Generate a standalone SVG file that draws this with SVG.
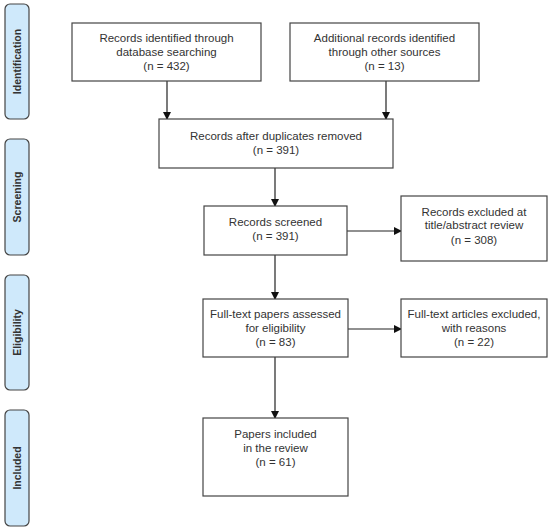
<svg xmlns="http://www.w3.org/2000/svg" width="550" height="530" viewBox="0 0 550 530">
<style>
.box{fill:#fff;stroke:#444;stroke-width:1.2}
.side{fill:#cfe9fb;stroke:#444;stroke-width:1.2}
.t{font-family:"Liberation Sans",Arial,sans-serif;font-size:11.5px;fill:#333;text-anchor:middle}
.s{font-family:"Liberation Sans",Arial,sans-serif;font-size:10.5px;font-weight:bold;fill:#333;text-anchor:middle}
.c{stroke:#222;stroke-width:1.2;fill:none;marker-end:url(#ah)}
</style>
<defs>
<marker id="ah" markerWidth="8" markerHeight="8" refX="7" refY="4" orient="auto" markerUnits="userSpaceOnUse">
<path d="M0,0 L8,4 L0,8 Z" fill="#111"/>
</marker>
</defs>
<rect width="550" height="530" fill="#fff"/>
<g id="side-identification"><rect class="side" x="5" y="4" width="24" height="115" rx="5"/><text class="s" transform="translate(21,61.5) rotate(-90)">Identification</text></g>
<g id="side-screening"><rect class="side" x="5" y="139" width="24" height="116" rx="5"/><text class="s" transform="translate(21,197) rotate(-90)">Screening</text></g>
<g id="side-eligibility"><rect class="side" x="5" y="275" width="24" height="115" rx="5"/><text class="s" transform="translate(21,332.5) rotate(-90)">Eligibility</text></g>
<g id="side-included"><rect class="side" x="5" y="410" width="24" height="116" rx="5"/><text class="s" transform="translate(21,468) rotate(-90)">Included</text></g>

<g id="connectors">
<line class="c" x1="167" y1="81" x2="167" y2="119"/>
<line class="c" x1="386" y1="81" x2="386" y2="119"/>
<line class="c" x1="275" y1="168" x2="275" y2="206"/>
<line class="c" x1="347" y1="231" x2="401" y2="231"/>
<line class="c" x1="275" y1="255" x2="275" y2="299"/>
<line class="c" x1="348" y1="329" x2="401" y2="329"/>
<line class="c" x1="275" y1="357" x2="275" y2="418"/>
</g>

<g id="n1"><rect class="box" x="72" y="23" width="189" height="58"/>
<text class="t" x="166.5" y="42">Records identified through</text>
<text class="t" x="166.5" y="56">database searching</text>
<text class="t" x="166.5" y="70">(n = 432)</text></g>
<g id="n2"><rect class="box" x="290" y="23" width="189" height="58"/>
<text class="t" x="384.5" y="42">Additional records identified</text>
<text class="t" x="384.5" y="56">through other sources</text>
<text class="t" x="384.5" y="70">(n = 13)</text></g>
<g id="n3"><rect class="box" x="159" y="119" width="234" height="49"/>
<text class="t" x="276" y="140">Records after duplicates removed</text>
<text class="t" x="276" y="154">(n = 391)</text></g>
<g id="n4"><rect class="box" x="204" y="206" width="143" height="49"/>
<text class="t" x="275.5" y="226">Records screened</text>
<text class="t" x="275.5" y="240">(n = 391)</text></g>
<g id="n5"><rect class="box" x="401" y="196" width="146" height="65"/>
<text class="t" x="474" y="216">Records excluded at</text>
<text class="t" x="474" y="229">title/abstract review</text>
<text class="t" x="474" y="244">(n = 308)</text></g>
<g id="n6"><rect class="box" x="203" y="299" width="145" height="58"/>
<text class="t" x="275.5" y="318">Full-text papers assessed</text>
<text class="t" x="275.5" y="332">for eligibility</text>
<text class="t" x="275.5" y="346">(n = 83)</text></g>
<g id="n7"><rect class="box" x="401" y="299" width="146" height="58"/>
<text class="t" x="474" y="318">Full-text articles excluded,</text>
<text class="t" x="474" y="332">with reasons</text>
<text class="t" x="474" y="346">(n = 22)</text></g>
<g id="n8"><rect class="box" x="203" y="418" width="145" height="78"/>
<text class="t" x="275.5" y="438">Papers included</text>
<text class="t" x="275.5" y="452">in the review</text>
<text class="t" x="275.5" y="466">(n = 61)</text></g>
</svg>
